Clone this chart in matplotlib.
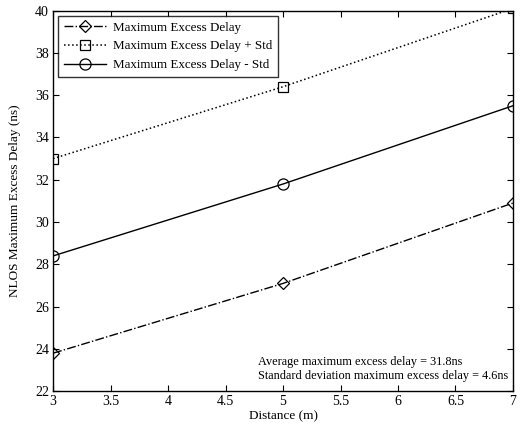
import matplotlib
matplotlib.use('Agg')
import matplotlib.pyplot as plt

# Distance (m) and delay values (ns)
distance = [3, 5, 7]
max_delay = [23.8, 27.1, 30.9]
max_delay_plus_std = [33.0, 36.4, 40.1]
max_delay_minus_std = [28.4, 31.8, 35.5]

x_ticks = [3, 3.5, 4, 4.5, 5, 5.5, 6, 6.5, 7]
x_tick_labels = ['3', '3.5', '4', '4.5', '5', '5.5', '6', '6.5', '7']
y_ticks = [22, 24, 26, 28, 30, 32, 34, 36, 38, 40]

plt.rcParams['font.family'] = ['Liberation Serif', 'DejaVu Serif']
plt.rcParams['font.size'] = 9.5

fig = plt.figure(figsize=(5.31, 4.23), dpi=100)
ax = fig.add_axes([0.100, 0.075, 0.866, 0.900])

ax.plot(distance, max_delay, linestyle='-.', color='k', linewidth=1.0,
        marker='D', markersize=6, markerfacecolor='none', markeredgewidth=0.9,
        label='Maximum Excess Delay')
ax.plot(distance, max_delay_plus_std, linestyle=':', color='k', linewidth=1.1,
        marker='s', markersize=7.5, markerfacecolor='none', markeredgewidth=0.9,
        label='Maximum Excess Delay + Std')
ax.plot(distance, max_delay_minus_std, linestyle='-', color='k', linewidth=1.0,
        marker='o', markersize=8, markerfacecolor='none', markeredgewidth=0.9,
        label='Maximum Excess Delay - Std')

ax.set_xlim(3, 7)
ax.set_ylim(22, 40)
ax.set_xticks(x_ticks)
ax.set_xticklabels(x_tick_labels)
ax.set_yticks(y_ticks)
ax.tick_params(direction='in', top=True, right=True, length=4, width=0.8,
               labelsize=10, pad=3)
for spine in ax.spines.values():
    spine.set_linewidth(1.0)

ax.set_xlabel('Distance (m)', fontsize=9.5, labelpad=1)
ax.set_ylabel('NLOS Maximum Excess Delay (ns)', fontsize=9.5, labelpad=10)

leg = ax.legend(loc='upper left', fontsize=9.4, frameon=True, fancybox=False,
                edgecolor='k', handlelength=3.2, borderaxespad=0.4,
                labelspacing=0.5, borderpad=0.45, handletextpad=0.5)
leg.get_frame().set_linewidth(1.0)

ax.text(0.445, 0.078, 'Average maximum excess delay = 31.8ns',
        transform=ax.transAxes, fontsize=8.8, va='center', ha='left')
ax.text(0.445, 0.040, 'Standard deviation maximum excess delay = 4.6ns',
        transform=ax.transAxes, fontsize=8.8, va='center', ha='left')

fig.savefig('out.png', dpi=100)
